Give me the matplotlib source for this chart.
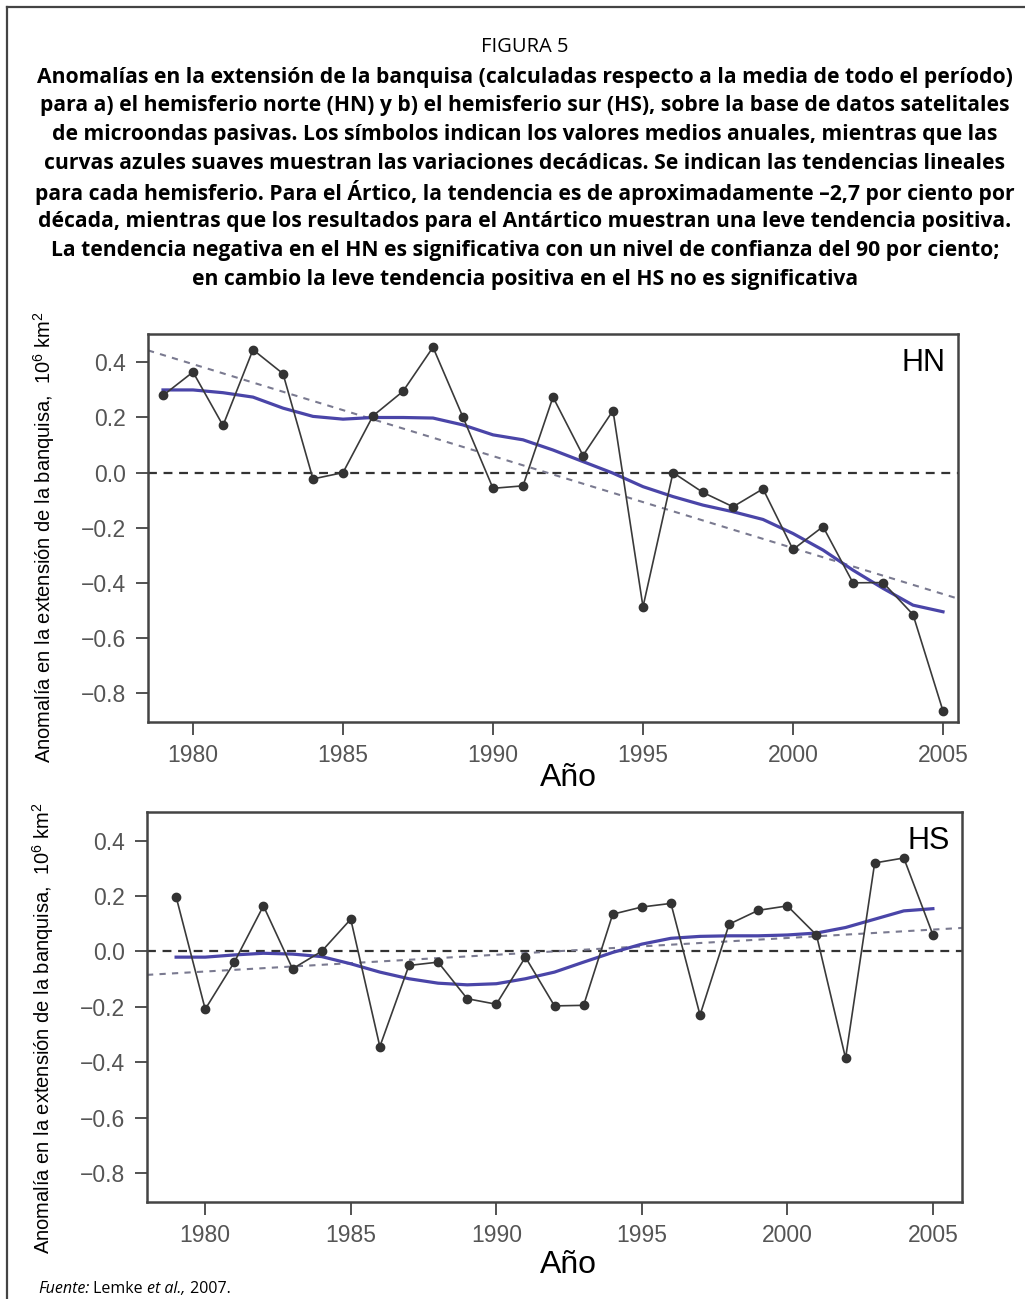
import numpy as np
import matplotlib
matplotlib.use("Agg")
import matplotlib.pyplot as plt
from matplotlib.lines import Line2D

plt.rcParams['font.family'] = ['Liberation Sans', 'DejaVu Sans']
plt.rcParams['mathtext.fontset'] = 'custom'
plt.rcParams['mathtext.rm'] = 'Liberation Sans'
plt.rcParams['mathtext.it'] = 'Liberation Sans:italic'

years = np.arange(1979, 2006)

# annual mean anomalies (10^6 km2)
hn_values = [0.28, 0.365, 0.171, 0.446, 0.359, -0.023, 0.0, 0.206, 0.295, 0.455,
             0.201, -0.057, -0.048, 0.274, 0.062, 0.225, -0.487, 0.0, -0.072, -0.124,
             -0.059, -0.279, -0.196, -0.40, -0.399, -0.515, -0.865]
hn_smooth = [0.30, 0.30, 0.29, 0.274, 0.234, 0.204, 0.194, 0.20, 0.20, 0.198,
             0.173, 0.137, 0.119, 0.082, 0.04, -0.002, -0.051, -0.087, -0.118, -0.142,
             -0.17, -0.221, -0.281, -0.354, -0.42, -0.481, -0.505]

hs_values = [0.197, -0.209, -0.039, 0.164, -0.063, 0.0, 0.116, -0.344, -0.051, -0.039,
             -0.171, -0.191, -0.021, -0.197, -0.195, 0.134, 0.16, 0.173, -0.23, 0.098,
             0.148, 0.164, 0.059, -0.386, 0.319, 0.337, 0.06]
hs_smooth = [-0.021, -0.021, -0.013, -0.007, -0.01, -0.019, -0.045, -0.075, -0.099, -0.115,
             -0.121, -0.117, -0.099, -0.075, -0.039, -0.004, 0.026, 0.047, 0.054, 0.056,
             0.056, 0.059, 0.066, 0.086, 0.116, 0.146, 0.154]

yticks = [0.4, 0.2, 0.0, -0.2, -0.4, -0.6, -0.8]
xticks = [1980, 1985, 1990, 1995, 2000, 2005]

caption_title = "FIGURA 5"
caption_lines = [
    "Anomalías en la extensión de la banquisa (calculadas respecto a la media de todo el período)",
    "para a) el hemisferio norte (HN) y b) el hemisferio sur (HS), sobre la base de datos satelitales",
    "de microondas pasivas. Los símbolos indican los valores medios anuales, mientras que las",
    "curvas azules suaves muestran las variaciones decádicas. Se indican las tendencias lineales",
    "para cada hemisferio. Para el Ártico, la tendencia es de aproximadamente \u20132,7 por ciento por",
    "década, mientras que los resultados para el Antártico muestran una leve tendencia positiva.",
    "La tendencia negativa en el HN es significativa con un nivel de confianza del 90 por ciento;",
    "en cambio la leve tendencia positiva en el HS no es significativa",
]
ylabel = "Anomalía en la extensión de la banquisa,  10$^6$ km$^2$"

W, H = 1025, 1299
fig = plt.figure(figsize=(W / 100, H / 100), dpi=100)

# outer frame of the figure box
fig.add_artist(Line2D([7 / W, 7 / W], [0, 1 - 7 / H], color='#444444', lw=1.6))
fig.add_artist(Line2D([7 / W, 1], [1 - 7 / H, 1 - 7 / H], color='#444444', lw=1.6))

cap_font = ['Open Sans', 'DejaVu Sans']
cap_x = 525 / W
fig.text(cap_x, 1 - 47 / H, caption_title, ha='center', va='center',
         fontsize=14.5, family=cap_font)
for i, line in enumerate(caption_lines):
    fig.text(cap_x, 1 - (77 + 28.9 * i) / H, line, ha='center', va='center',
             fontsize=15.2, fontweight='bold', family=cap_font)


def panel(rect, vals, smooth, xlim, tag, tag_y, label_y, ano_y):
    ax = fig.add_axes(rect)
    ax.axhline(0, color='#333333', lw=1.6, ls=(0, (4, 3)), zorder=1)
    coef = np.polyfit(years, vals, 1)
    xt = np.array(xlim)
    ax.plot(xt, np.polyval(coef, xt), color='#7a7a90', lw=1.5, ls=(0, (3, 3)), zorder=1)
    ax.plot(years, smooth, color='#4a45a8', lw=2.3, zorder=2)
    ax.plot(years, vals, color='#3a3a3a', lw=1.2, marker='o', markersize=6,
            markerfacecolor='#333333', markeredgecolor='#333333', zorder=3)
    ax.set_xlim(*xlim)
    ax.set_ylim(-0.905, 0.503)
    ax.set_yticks(yticks)
    ax.set_yticklabels([f"{v:.1f}".replace('-', '\u2212') for v in yticks])
    ax.set_xticks(xticks)
    ax.tick_params(direction='out', length=9, width=1.3, color='#444444',
                   labelcolor='#555555', labelsize=16.5, pad=7)
    for s in ax.spines.values():
        s.set_color('#444444')
        s.set_linewidth(1.8)
    ax.set_ylabel(ylabel, fontsize=14.5, color='black')
    ax.yaxis.set_label_coords(-0.112, label_y)
    ax.text(0.985, tag_y, tag, transform=ax.transAxes, ha='right', va='top',
            fontsize=22, color='black')
    fig.text(568 / W, 1 - ano_y / H, "Año", ha='center', va='center', fontsize=23)
    return ax


panel([148 / W, 1 - 722 / H, 810 / W, 388 / H], hn_values, hn_smooth,
      (1978.5, 2005.5), "HN", 0.965, 0.477, 778)
panel([147 / W, 1 - 1202 / H, 815 / W, 390 / H], hs_values, hs_smooth,
      (1978.0, 2006.0), "HS", 0.965, 0.446, 1265)

# source line with italic pieces
src_parts = [("Fuente:", 'italic'), (" Lemke ", 'normal'), ("et al.,", 'italic'), (" 2007.", 'normal')]
renderer = fig.canvas.get_renderer()
x = 38 / W
for txt, style in src_parts:
    t = fig.text(x, 1 - 1289 / H, txt, ha='left', va='center', fontsize=11.5,
                 style=style, family=cap_font)
    bb = t.get_window_extent(renderer=renderer)
    x += bb.width / W

fig.savefig("out.png", dpi=100)
